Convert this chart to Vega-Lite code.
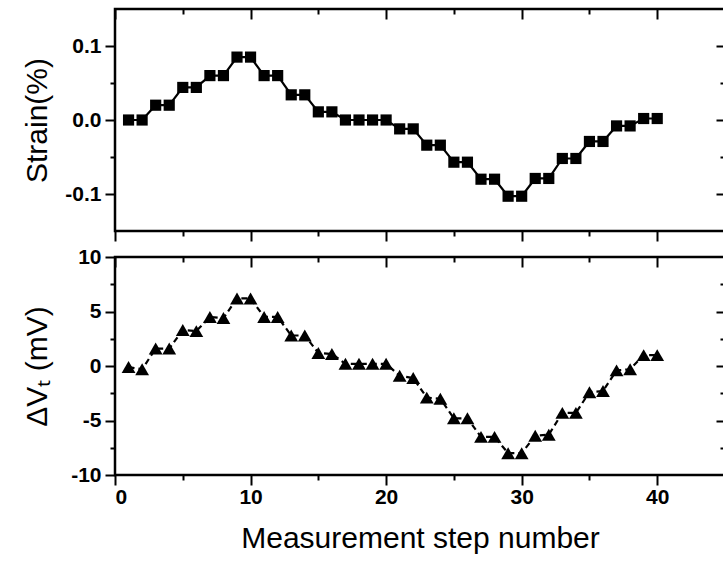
{
  "$schema": "https://vega.github.io/schema/vega-lite/v6.json",
  "padding": {"left": 21, "top": 6, "right": 0, "bottom": 0},
  "spacing": 0,
  "config": {
    "view": {"stroke": "black", "strokeWidth": 2.5},
    "font": "Liberation Sans",
    "axis": {
      "domain": false, "grid": false,
      "tickColor": "black", "tickWidth": 2,
      "labelColor": "black", "titleColor": "black",
      "labelFont": "Liberation Sans", "labelFontSize": 21, "labelFontWeight": "bold",
      "titleFont": "Liberation Sans", "titleFontWeight": "normal", "titleFontSize": 30
    }
  },
  "datasets": {
    "d": [
      {"step": 1, "strain": 0.0, "dvt": -0.1},
      {"step": 2, "strain": 0.0, "dvt": -0.3},
      {"step": 3, "strain": 0.020, "dvt": 1.6},
      {"step": 4, "strain": 0.020, "dvt": 1.6},
      {"step": 5, "strain": 0.044, "dvt": 3.3},
      {"step": 6, "strain": 0.044, "dvt": 3.2},
      {"step": 7, "strain": 0.060, "dvt": 4.5},
      {"step": 8, "strain": 0.060, "dvt": 4.4},
      {"step": 9, "strain": 0.085, "dvt": 6.2},
      {"step": 10, "strain": 0.085, "dvt": 6.2},
      {"step": 11, "strain": 0.060, "dvt": 4.5},
      {"step": 12, "strain": 0.060, "dvt": 4.5},
      {"step": 13, "strain": 0.034, "dvt": 2.8},
      {"step": 14, "strain": 0.034, "dvt": 2.8},
      {"step": 15, "strain": 0.011, "dvt": 1.2},
      {"step": 16, "strain": 0.011, "dvt": 1.1},
      {"step": 17, "strain": 0.0, "dvt": 0.2},
      {"step": 18, "strain": 0.0, "dvt": 0.2},
      {"step": 19, "strain": 0.0, "dvt": 0.2},
      {"step": 20, "strain": 0.0, "dvt": 0.2},
      {"step": 21, "strain": -0.012, "dvt": -0.9},
      {"step": 22, "strain": -0.012, "dvt": -1.1},
      {"step": 23, "strain": -0.034, "dvt": -2.9},
      {"step": 24, "strain": -0.034, "dvt": -3.0},
      {"step": 25, "strain": -0.057, "dvt": -4.8},
      {"step": 26, "strain": -0.057, "dvt": -4.8},
      {"step": 27, "strain": -0.080, "dvt": -6.5},
      {"step": 28, "strain": -0.080, "dvt": -6.5},
      {"step": 29, "strain": -0.103, "dvt": -8.0},
      {"step": 30, "strain": -0.103, "dvt": -8.0},
      {"step": 31, "strain": -0.079, "dvt": -6.4},
      {"step": 32, "strain": -0.079, "dvt": -6.3},
      {"step": 33, "strain": -0.052, "dvt": -4.3},
      {"step": 34, "strain": -0.052, "dvt": -4.3},
      {"step": 35, "strain": -0.029, "dvt": -2.4},
      {"step": 36, "strain": -0.029, "dvt": -2.3},
      {"step": 37, "strain": -0.008, "dvt": -0.4},
      {"step": 38, "strain": -0.008, "dvt": -0.3},
      {"step": 39, "strain": 0.002, "dvt": 1.0},
      {"step": 40, "strain": 0.002, "dvt": 1.0}
    ]
  },
  "vconcat": [
    {
      "width": 610, "height": 222,
      "data": {"name": "d"},
      "layer": [
        {
          "mark": {"type": "line", "color": "black", "strokeWidth": 2.2},
          "encoding": {
            "x": {"field": "step", "type": "quantitative", "scale": {"domain": [0, 45], "nice": false, "zero": false},
              "axis": {"orient": "bottom", "values": [0, 5, 10, 15, 20, 25, 30, 35, 40], "labels": false, "title": null,
                "tickSize": {"condition": {"test": "datum.value % 10 == 0", "value": 10}, "value": 5}}},
            "y": {"field": "strain", "type": "quantitative", "scale": {"domain": [-0.15, 0.15], "nice": false, "zero": false},
              "axis": {"orient": "left", "values": [-0.1, -0.05, 0, 0.05, 0.1], "title": "Strain(%)", "titlePadding": 12, "labelPadding": 4,
                "labelExpr": "abs(datum.value*10 - round(datum.value*10)) < 0.001 ? replace(format(datum.value, '.1f'), '\u2212', '-') : ''",
                "tickSize": {"condition": {"test": "abs(datum.value*10 - round(datum.value*10)) < 0.001", "value": 10}, "value": 5}}}
          }
        },
        {
          "mark": {"type": "point", "shape": "square", "filled": true, "color": "black", "size": 125, "opacity": 1},
          "encoding": {
            "x": {"field": "step", "type": "quantitative",
              "axis": {"orient": "top", "values": [0, 5, 10, 15, 20, 25, 30, 35, 40], "labels": false, "title": null,
                "tickSize": {"condition": {"test": "datum.value % 10 == 0", "value": -10}, "value": -5}}},
            "y": {"field": "strain", "type": "quantitative",
              "axis": {"orient": "right", "values": [-0.1, -0.05, 0, 0.05, 0.1], "labels": false, "title": null,
                "tickSize": {"condition": {"test": "abs(datum.value*10 - round(datum.value*10)) < 0.001", "value": -9}, "value": -5}}}
          }
        }
      ],
      "resolve": {"axis": {"x": "independent", "y": "independent"}}
    },
    {
      "width": 610, "height": 218,
      "data": {"name": "d"},
      "layer": [
        {
          "mark": {"type": "line", "color": "black", "strokeWidth": 2.2, "strokeDash": [6, 4]},
          "encoding": {
            "x": {"field": "step", "type": "quantitative", "scale": {"domain": [0, 45], "nice": false, "zero": false},
              "axis": {"orient": "bottom", "values": [0, 5, 10, 15, 20, 25, 30, 35, 40], "title": "Measurement step number", "titlePadding": 16, "labelPadding": 1,
                "labelExpr": "datum.value % 10 == 0 ? datum.label : ''",
                "tickSize": {"condition": {"test": "datum.value % 10 == 0", "value": 10}, "value": 5}}},
            "y": {"field": "dvt", "type": "quantitative", "scale": {"domain": [-10, 10], "nice": false, "zero": false},
              "axis": {"orient": "left", "values": [-10, -7.5, -5, -2.5, 0, 2.5, 5, 7.5, 10], "title": "ΔVₜ (mV)", "titlePadding": 18, "labelPadding": 4,
                "labelExpr": "datum.value % 5 == 0 ? replace(datum.label, '\u2212', '-') : ''",
                "tickSize": {"condition": {"test": "datum.value % 5 == 0", "value": 10}, "value": 5}}}
          }
        },
        {
          "mark": {"type": "point", "shape": "triangle-up", "filled": true, "color": "black", "size": 190, "opacity": 1},
          "encoding": {
            "x": {"field": "step", "type": "quantitative",
              "axis": {"orient": "top", "values": [0, 5, 10, 15, 20, 25, 30, 35, 40], "labels": false, "title": null,
                "tickSize": {"condition": {"test": "datum.value % 10 == 0", "value": -10}, "value": -5}}},
            "y": {"field": "dvt", "type": "quantitative",
              "axis": {"orient": "right", "values": [-7.5, -5, -2.5, 0, 2.5, 5, 7.5], "labels": false, "title": null,
                "tickSize": {"condition": {"test": "datum.value % 5 == 0", "value": -9}, "value": -5}}}
          }
        }
      ],
      "resolve": {"axis": {"x": "independent", "y": "independent"}}
    }
  ]
}
